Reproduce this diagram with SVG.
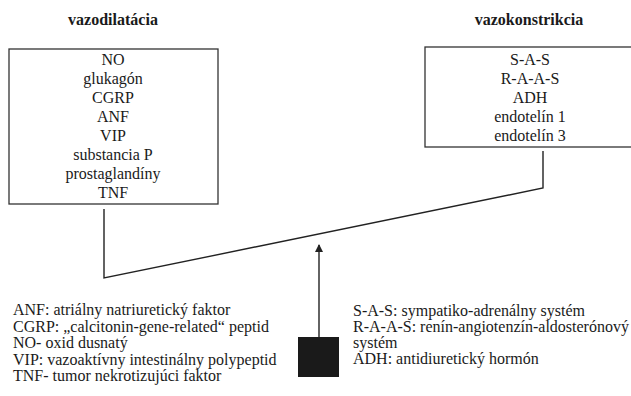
<svg xmlns="http://www.w3.org/2000/svg" width="631" height="396" viewBox="0 0 631 396">
<style>
.t{font-family:"Liberation Serif","Times New Roman",serif;font-size:16px;fill:#1a1a1a}
.h{font-weight:bold;font-size:16px}
.c{text-anchor:middle}
.l{font-size:16px}
.box{fill:#fff;stroke:#333;stroke-width:1.3}
.ln{fill:none;stroke:#222;stroke-width:1.4}
</style>
<defs>
<marker id="ah" markerWidth="8" markerHeight="10" refX="7" refY="4" orient="auto" markerUnits="userSpaceOnUse">
<path d="M0,0 L8,4 L0,8 Z" fill="#222"/>
</marker>
</defs>
<rect width="631" height="396" fill="#fff"/>
<g id="vazodilatacia">
<text class="t h c" x="113" y="25">vazodilatácia</text>
<rect class="box" x="9" y="49" width="209" height="155"/>
<text class="t c" x="113" y="65">NO</text>
<text class="t c" x="113" y="84">glukagón</text>
<text class="t c" x="113" y="103">CGRP</text>
<text class="t c" x="113" y="122">ANF</text>
<text class="t c" x="113" y="141">VIP</text>
<text class="t c" x="113" y="160">substancia P</text>
<text class="t c" x="113" y="179">prostaglandíny</text>
<text class="t c" x="113" y="198">TNF</text>
</g>
<g id="vazokonstrikcia">
<text class="t h c" x="529" y="25">vazokonstrikcia</text>
<rect class="box" x="425" y="47" width="220" height="100"/>
<text class="t c" x="530" y="65">S-A-S</text>
<text class="t c" x="530" y="84">R-A-A-S</text>
<text class="t c" x="530" y="103">ADH</text>
<text class="t c" x="530" y="122">endotelín 1</text>
<text class="t c" x="530" y="141">endotelín 3</text>
</g>
<g id="zdroj">
<rect x="298" y="337" width="41" height="40" fill="#1a1a1a"/>
</g>
<g id="connectors">
<path class="ln" d="M104,209 L104,278 L543,188 L543,151"/>
<line class="ln" x1="319" y1="337" x2="319" y2="245" stroke-width="1.2" marker-end="url(#ah)"/>
</g>
<g id="legenda-vazodilatacia">
<text class="t l" x="13" y="315">ANF: atriálny natriuretický faktor</text>
<text class="t l" x="13" y="331.5">CGRP: „calcitonin-gene-related“ peptid</text>
<text class="t l" x="13" y="348">NO- oxid dusnatý</text>
<text class="t l" x="13" y="364.5">VIP: vazoaktívny intestinálny polypeptid</text>
<text class="t l" x="13" y="381">TNF- tumor nekrotizujúci faktor</text>
</g>
<g id="legenda-vazokonstrikcia">
<text class="t l" x="353" y="316">S-A-S: sympatiko-adrenálny systém</text>
<text class="t l" x="353" y="332">R-A-A-S: renín-angiotenzín-aldosterónový</text>
<text class="t l" x="353" y="348">systém</text>
<text class="t l" x="353" y="364">ADH: antidiuretický hormón</text>
</g>
</svg>
